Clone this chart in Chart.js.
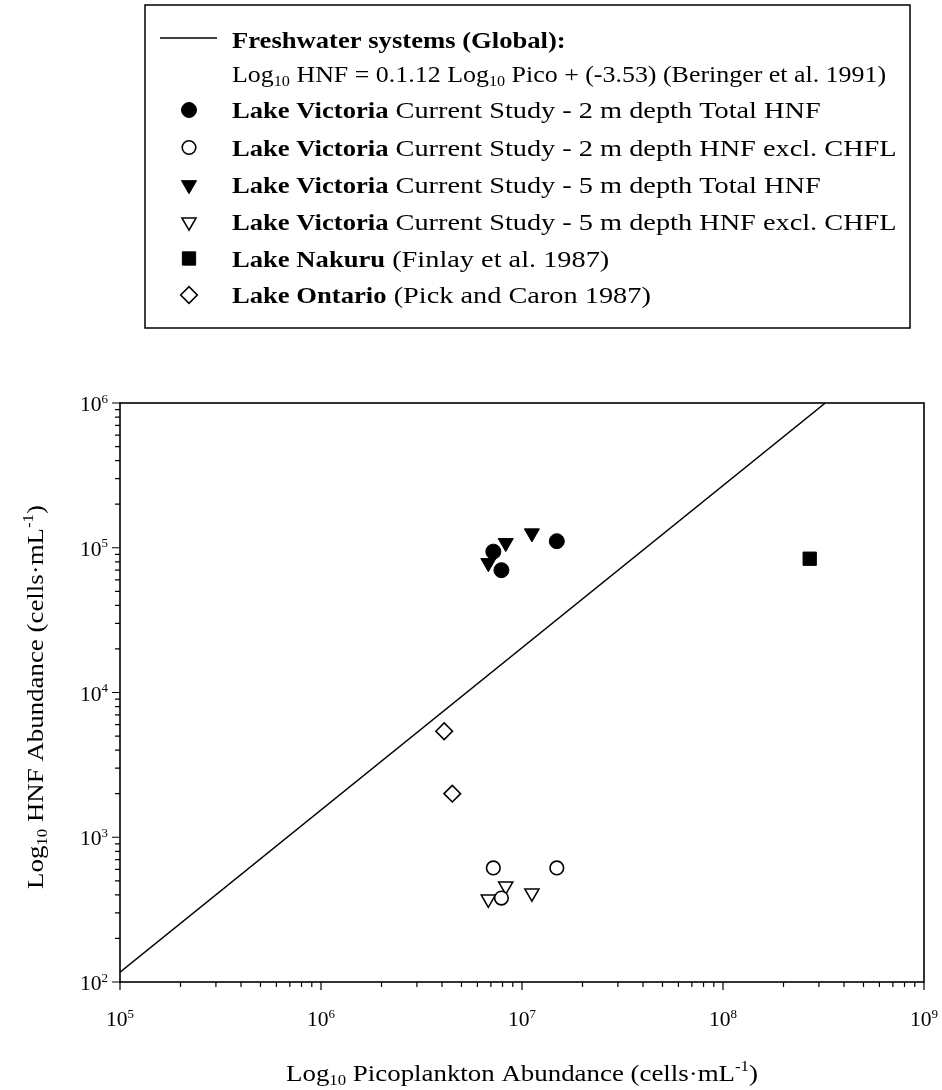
<!DOCTYPE html>
<html>
<head>
<meta charset="utf-8">
<script src="https://cdn.jsdelivr.net/npm/chart.js@4.4.1/dist/chart.umd.min.js"></script>
<style>
body { margin: 0; background: #fff; }
#wrap { width: 942px; height: 1090px; position: relative; }
</style>
</head>
<body>
<div id="wrap"><canvas id="hnfChart"></canvas></div>
<script>
// picoplankton (x) and HNF (y) abundances, cells per mL
const pico2m = [7.2e6, 7.9e6, 1.49e7];
const hnf2mTotal = [9.4e4, 7.0e4, 1.11e5];
const hnf2mExcl = [614, 380, 614];
const pico5m = [6.8e6, 8.3e6, 1.12e7];
const hnf5mTotal = [7.85e4, 1.08e5, 1.26e5];
const hnf5mExcl = [374, 460, 412];
const picoNakuru = [2.7e8];
const hnfNakuru = [8.4e4];
const picoOntario = [4.1e6, 4.5e6];
const hnfOntario = [5.4e3, 2.0e3];
// Beringer et al. freshwater regression, end points
const picoFit = [1e5, 3.23e8];
const hnfFit = [117, 1e6];
// decade exponents used for the tick labels
const xDecades = [5, 6, 7, 8, 9];
const yDecades = [2, 3, 4, 5, 6];

const FONT = '"Liberation Serif", "Times New Roman", serif';
const BOLD_K = 0.94; // bold runs are set a little tighter

const pts = (xs, ys) => xs.map((x, i) => ({x: x, y: ys[i]}));

function partFont(kind, size) {
  if (kind === 'b') return 'bold ' + size + 'px ' + FONT;
  if (kind === 'sub' || kind === 'sup') return Math.round(size * 0.62) + 'px ' + FONT;
  return size + 'px ' + FONT;
}

function partWidth(ctx, p, size) {
  ctx.font = partFont(p[1], size);
  return ctx.measureText(p[0]).width * (p[1] === 'b' ? BOLD_K : 1);
}

// draw text runs (normal / bold / subscript / superscript) on one baseline,
// widened by sx to get closer to a book face
function drawRich(ctx, parts, x, y, size, align, sx) {
  ctx.save();
  ctx.translate(x, y);
  ctx.scale(sx, 1);
  ctx.fillStyle = '#000';
  ctx.textBaseline = 'alphabetic';
  ctx.textAlign = 'left';
  let w = 0;
  parts.forEach(p => { w += partWidth(ctx, p, size); });
  let cx = align === 'center' ? -w / 2 : align === 'right' ? -w : 0;
  parts.forEach(p => {
    const pw = partWidth(ctx, p, size);
    let dy = 0;
    if (p[1] === 'sub') dy = size * 0.18;
    if (p[1] === 'sup') dy = -size * 0.42;
    ctx.save();
    ctx.translate(cx, dy);
    if (p[1] === 'b') ctx.scale(BOLD_K, 1);
    ctx.fillText(p[0], 0, 0);
    ctx.restore();
    cx += pw;
  });
  ctx.restore();
}

const datasets = [
  {label: 'fit', data: pts(picoFit, hnfFit), showLine: true, borderColor: '#000', borderWidth: 1.5, pointRadius: 0},
  {label: '2m total', data: pts(pico2m, hnf2mTotal), pointStyle: 'circle', pointRadius: 7.5, backgroundColor: '#000', borderColor: '#000', borderWidth: 1},
  {label: '2m excl', data: pts(pico2m, hnf2mExcl), pointStyle: 'circle', pointRadius: 6.8, backgroundColor: '#fff', borderColor: '#000', borderWidth: 1.6},
  {label: '5m total', data: pts(pico5m, hnf5mTotal), pointStyle: 'triangle', rotation: 180, pointRadius: 8.7, backgroundColor: '#000', borderColor: '#000', borderWidth: 1},
  {label: '5m excl', data: pts(pico5m, hnf5mExcl), pointStyle: 'triangle', rotation: 180, pointRadius: 8.2, backgroundColor: '#fff', borderColor: '#000', borderWidth: 1.5},
  {label: 'Nakuru', data: pts(picoNakuru, hnfNakuru), pointStyle: 'rect', pointRadius: 9.4, backgroundColor: '#000', borderColor: '#000', borderWidth: 1},
  {label: 'Ontario', data: pts(picoOntario, hnfOntario), pointStyle: 'rectRot', pointRadius: 8.3, backgroundColor: '#fff', borderColor: '#000', borderWidth: 1.6}
];

const legendRows = [
  {ds: 0, sx: 1.18, parts: [['Freshwater systems (Global):', 'b']]},
  {ds: -1, sx: 1.08, parts: [['Log', 'n'], ['10', 'sub'], [' HNF = 0.1.12 Log', 'n'], ['10', 'sub'], [' Pico + (-3.53) (Beringer et al. 1991)', 'n']]},
  {ds: 1, sx: 1.18, parts: [['Lake Victoria', 'b'], [' Current Study - 2 m depth Total HNF', 'n']]},
  {ds: 2, sx: 1.18, parts: [['Lake Victoria', 'b'], [' Current Study - 2 m depth HNF excl. CHFL', 'n']]},
  {ds: 3, sx: 1.18, parts: [['Lake Victoria', 'b'], [' Current Study - 5 m depth Total HNF', 'n']]},
  {ds: 4, sx: 1.18, parts: [['Lake Victoria', 'b'], [' Current Study - 5 m depth HNF excl. CHFL', 'n']]},
  {ds: 5, sx: 1.18, parts: [['Lake Nakuru', 'b'], [' (Finlay et al. 1987)', 'n']]},
  {ds: 6, sx: 1.18, parts: [['Lake Ontario', 'b'], [' (Pick and Caron 1987)', 'n']]}
];
const legendRowY = [39.5, 73.5, 110, 147.5, 185, 222, 258.5, 295];

// box, log ticks, labels, titles and the boxed key
const framePlugin = {
  id: 'frame',
  afterDraw(chart) {
    const ctx = chart.ctx;
    const a = chart.chartArea;
    const xs = chart.scales.x, ys = chart.scales.y;
    ctx.save();
    ctx.strokeStyle = '#000';
    ctx.lineWidth = 1.6;
    ctx.strokeRect(a.left, a.top, a.right - a.left, a.bottom - a.top);

    ctx.lineWidth = 1.2;
    ctx.beginPath();
    xDecades.forEach(d => {
      for (let m = 1; m <= 9; m++) {
        if (d === 9 && m > 1) break;
        const px = xs.getPixelForValue(m * Math.pow(10, d));
        ctx.moveTo(px, a.bottom);
        ctx.lineTo(px, a.bottom + (m === 1 ? 8 : 5));
      }
    });
    yDecades.forEach(d => {
      for (let m = 1; m <= 9; m++) {
        if (d === 6 && m > 1) break;
        const py = ys.getPixelForValue(m * Math.pow(10, d));
        ctx.moveTo(a.left, py);
        ctx.lineTo(a.left - (m === 1 ? 8 : 5), py);
      }
    });
    ctx.stroke();

    xDecades.forEach(d => {
      drawRich(ctx, [['10', 'n'], [String(d), 'sup']], xs.getPixelForValue(Math.pow(10, d)), a.bottom + 44, 20, 'center', 1.08);
    });
    yDecades.forEach(d => {
      drawRich(ctx, [['10', 'n'], [String(d), 'sup']], a.left - 12, ys.getPixelForValue(Math.pow(10, d)) + 8, 20, 'right', 1.08);
    });

    drawRich(ctx, [['Log', 'n'], ['10', 'sub'], [' Picoplankton Abundance (cells·mL', 'n'], ['-1', 'sup'], [')', 'n']],
      (a.left + a.right) / 2, 1081, 24, 'center', 1.12);
    ctx.save();
    ctx.translate(43, 697);
    ctx.rotate(-Math.PI / 2);
    drawRich(ctx, [['Log', 'n'], ['10', 'sub'], [' HNF Abundance (cells·mL', 'n'], ['-1', 'sup'], [')', 'n']], 0, 0, 24, 'center', 1.12);
    ctx.restore();

    // key
    ctx.strokeStyle = '#000';
    ctx.lineWidth = 1.5;
    ctx.strokeRect(145, 5, 765, 323);
    legendRows.forEach((row, i) => {
      const y = legendRowY[i];
      if (row.ds === 0) {
        ctx.lineWidth = 1.5;
        ctx.beginPath();
        ctx.moveTo(160, y - 1.5);
        ctx.lineTo(217, y - 1.5);
        ctx.stroke();
      } else if (row.ds > 0) {
        const ds = datasets[row.ds];
        ctx.fillStyle = ds.backgroundColor;
        ctx.strokeStyle = ds.borderColor;
        ctx.lineWidth = ds.borderWidth;
        Chart.helpers.drawPoint(ctx, {pointStyle: ds.pointStyle, rotation: ds.rotation || 0, radius: ds.pointRadius, borderWidth: ds.borderWidth}, 189, y);
      }
      drawRich(ctx, row.parts, 232, y + 8.3, 24, 'left', row.sx);
    });
    ctx.restore();
  }
};

new Chart(document.getElementById('hnfChart'), {
  type: 'scatter',
  data: {datasets: datasets},
  options: {
    responsive: true,
    maintainAspectRatio: false,
    animation: false,
    layout: {padding: {left: 120, top: 403, right: 18, bottom: 108}},
    plugins: {legend: {display: false}, tooltip: {enabled: false}},
    scales: {
      x: {type: 'logarithmic', min: 1e5, max: 1e9, display: false},
      y: {type: 'logarithmic', min: 1e2, max: 1e6, display: false}
    }
  },
  plugins: [framePlugin]
});
</script>
</body>
</html>
